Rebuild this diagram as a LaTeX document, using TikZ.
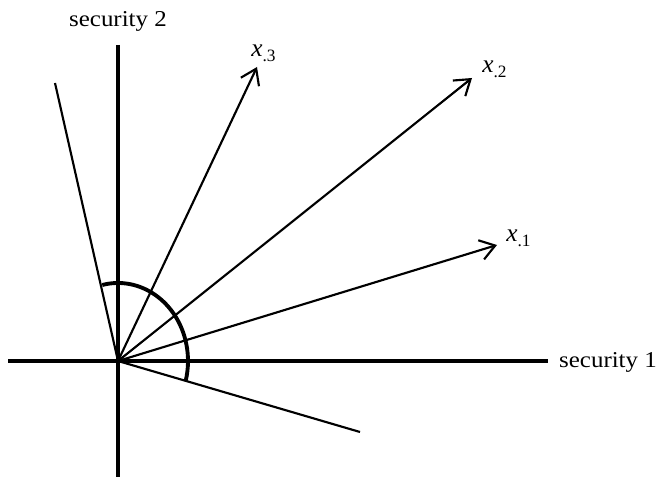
\documentclass[tikz,border=0pt]{standalone}
\usepackage{fontspec}
\setmainfont{Liberation Serif}
\usetikzlibrary{arrows.meta}
\begin{document}
\begin{tikzpicture}[x=0.75pt,y=-0.75pt,
  axis/.style={line width=2.9pt},
  ray/.style={line width=1.6pt},
  vec/.style={line width=1.6pt,-{Straight Barb[length=11pt,width=15pt,line width=1.6pt]}},
  arcline/.style={line width=2.9pt},
  axlbl/.style={font=\fontsize{17}{20}\selectfont, inner sep=0pt, xscale=1.1, transform shape},
  veclbl/.style={font=\fontsize{19}{20}\selectfont, inner sep=0pt, anchor=west}]
\useasboundingbox (0,0) rectangle (660,477);
\coordinate (O) at (118,361);
\coordinate (L) at (8,361);
\coordinate (R) at (548,361);
\coordinate (T) at (118,45);
\coordinate (B) at (118,477);
\coordinate (UL) at (55,83);
\coordinate (LR) at (360,432);
\coordinate (X3) at (257,67);
\coordinate (X2) at (472,78);
\coordinate (X1) at (497,245);
% axes
\draw[axis] (L) -- (R);
\draw[axis] (T) -- (B);
% rays
\draw[ray] (O) -- (UL);
\draw[ray] (O) -- (LR);
% vectors
\draw[vec] (O) -- (X3);
\draw[vec] (O) -- (X2);
\draw[vec] (O) -- (X1);
% arc
\draw[arcline] ([shift={(-103:70 and 78)}]O) arc[start angle=-103, end angle=14.5, x radius=70, y radius=78];
% labels
\node[axlbl] (s2) at (118,21) {security 2};
\node[axlbl] (s1) at (608,362) {security 1};
\node[veclbl] (l3) at (251,53) {\textit{x}\raisebox{-0.4ex}{\fontsize{13}{14}\selectfont .3}};
\node[veclbl] (l2) at (482,69) {\textit{x}\raisebox{-0.4ex}{\fontsize{13}{14}\selectfont .2}};
\node[veclbl] (l1) at (506,238) {\textit{x}\raisebox{-0.4ex}{\fontsize{13}{14}\selectfont .1}};
\end{tikzpicture}
\end{document}
